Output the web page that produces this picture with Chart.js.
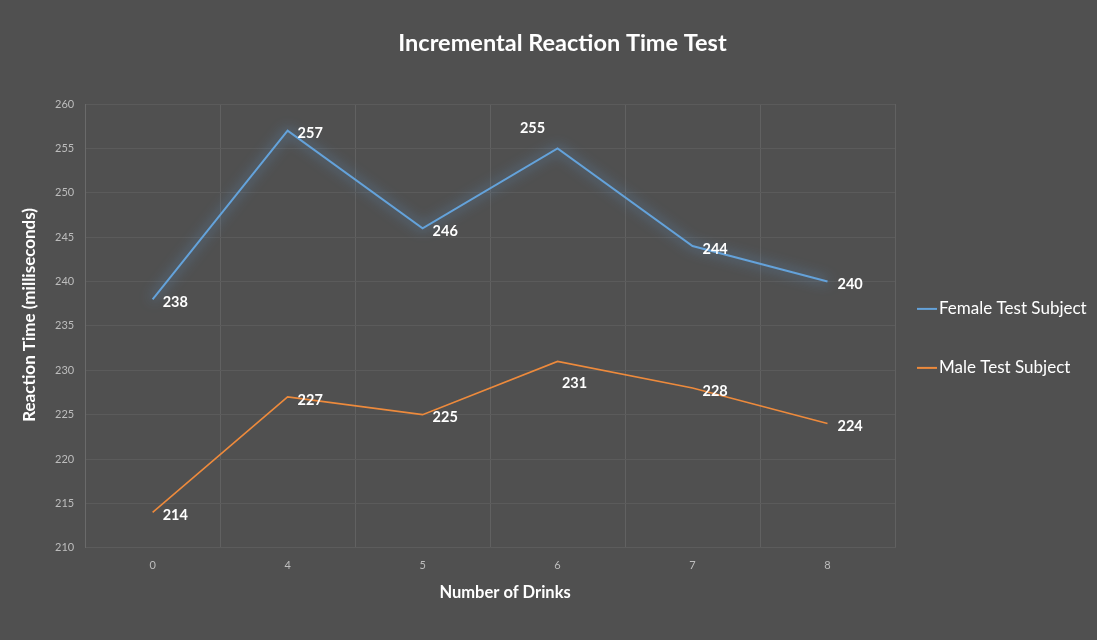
<!DOCTYPE html>
<html>
<head>
<meta charset="utf-8">
<title>Incremental Reaction Time Test</title>
<script src="https://cdn.jsdelivr.net/npm/chart.js@4.4.1/dist/chart.umd.min.js"></script>
<style>
  html, body { margin: 0; padding: 0; background: #505050; }
  #wrap { width: 1097px; height: 640px; }
</style>
</head>
<body>
<div id="wrap"><canvas id="grafico"></canvas></div>
<script>
const titulo = 'Incremental Reaction Time Test';
const tituloX = 'Number of Drinks';
const tituloY = 'Reaction Time (milliseconds)';
const drinks = ['0', '4', '5', '6', '7', '8'];
const female = [238, 257, 246, 255, 244, 240];
const male = [214, 227, 225, 231, 228, 224];
// where each value label sits relative to its point
const femaleLabelPos = ['r', 'r', 'r', 'tl', 'r', 'r'];
const maleLabelPos = ['r', 'r', 'r', 'b', 'r', 'r'];

const fonte = 'Lato, "Open Sans", sans-serif';

// glow under the blue line
const brilho = {
  id: 'brilho',
  beforeDatasetDraw(chart, args) {
    if (args.index !== 0) return;
    const ctx = chart.ctx;
    ctx.save();
    ctx.shadowColor = 'rgba(100,170,235,0.95)';
    ctx.shadowBlur = 13;
  },
  afterDatasetDraw(chart, args) {
    if (args.index !== 0) return;
    chart.ctx.restore();
  }
};

const rotulos = {
  id: 'rotulos',
  afterDatasetsDraw(chart) {
    const ctx = chart.ctx;
    const posicoes = [femaleLabelPos, maleLabelPos];
    ctx.save();
    ctx.font = 'bold 14.5px ' + fonte;
    ctx.fillStyle = '#ffffff';
    ctx.textBaseline = 'middle';
    chart.data.datasets.forEach((ds, i) => {
      chart.getDatasetMeta(i).data.forEach((pt, j) => {
        const texto = String(ds.data[j]);
        const pos = posicoes[i][j];
        if (pos === 'tl') {
          ctx.textAlign = 'center';
          ctx.fillText(texto, pt.x - 25, pt.y - 20);
        } else if (pos === 'b') {
          ctx.textAlign = 'center';
          ctx.fillText(texto, pt.x + 17, pt.y + 22);
        } else {
          ctx.textAlign = 'left';
          ctx.fillText(texto, pt.x + 10, pt.y + 3);
        }
      });
    });
    ctx.restore();
  }
};

// titles and legend, placed like the original spreadsheet chart
const legenda = {
  id: 'legenda',
  afterDraw(chart) {
    const ctx = chart.ctx;
    const area = chart.chartArea;
    ctx.save();
    ctx.fillStyle = '#ffffff';
    ctx.textBaseline = 'middle';
    ctx.textAlign = 'center';
    ctx.font = 'bold 23.5px ' + fonte;
    ctx.fillText(titulo, chart.width / 2 + 14, 43);

    ctx.font = 'bold 16.5px ' + fonte;
    ctx.fillText(tituloX, (area.left + area.right) / 2 + 15, area.bottom + 45);

    ctx.save();
    ctx.translate(30, (area.top + area.bottom) / 2 - 11);
    ctx.rotate(-Math.PI / 2);
    ctx.font = 'bold 17px ' + fonte;
    ctx.fillText(tituloY, 0, 0);
    ctx.restore();

    const meio = (area.top + area.bottom) / 2;
    const linhas = [meio - 17, meio + 42];
    ctx.font = '17px ' + fonte;
    ctx.textAlign = 'left';
    chart.data.datasets.forEach((ds, i) => {
      const y = linhas[i];
      const x0 = area.right + 22;
      ctx.strokeStyle = ds.borderColor;
      ctx.lineWidth = 2;
      ctx.beginPath();
      ctx.moveTo(x0, y);
      ctx.lineTo(x0 + 20, y);
      ctx.stroke();
      ctx.fillStyle = '#ffffff';
      ctx.fillText(ds.label, x0 + 22, y);
    });
    ctx.restore();
  }
};

new Chart(document.getElementById('grafico'), {
  type: 'line',
  data: {
    labels: drinks,
    datasets: [{
      label: 'Female Test Subject',
      data: female,
      borderColor: '#64a2da',
      backgroundColor: '#64a2da',
      borderWidth: 2,
      pointRadius: 0,
      tension: 0
    }, {
      label: 'Male Test Subject',
      data: male,
      borderColor: '#ed8a3c',
      backgroundColor: '#ed8a3c',
      borderWidth: 1.6,
      pointRadius: 0,
      tension: 0
    }]
  },
  options: {
    responsive: true,
    maintainAspectRatio: false,
    animation: false,
    layout: { padding: { left: 44, right: 202, bottom: 57, top: 104 } },
    plugins: {
      title: { display: false },
      legend: { display: false },
      tooltip: { enabled: false }
    },
    scales: {
      x: {
        offset: true,
        grid: { color: '#616161', offset: true, drawTicks: false },
        border: { color: '#5c5c5c' },
        ticks: { color: '#bdbdbd', font: { family: fonte, size: 11 }, padding: 11 }
      },
      y: {
        min: 210,
        max: 260,
        ticks: { stepSize: 5, color: '#bdbdbd', font: { family: fonte, size: 11 }, padding: 11 },
        grid: { color: '#5b5b5b', drawTicks: false },
        border: { color: '#6a6a6a' }
      }
    }
  },
  plugins: [brilho, rotulos, legenda]
});
</script>
</body>
</html>
